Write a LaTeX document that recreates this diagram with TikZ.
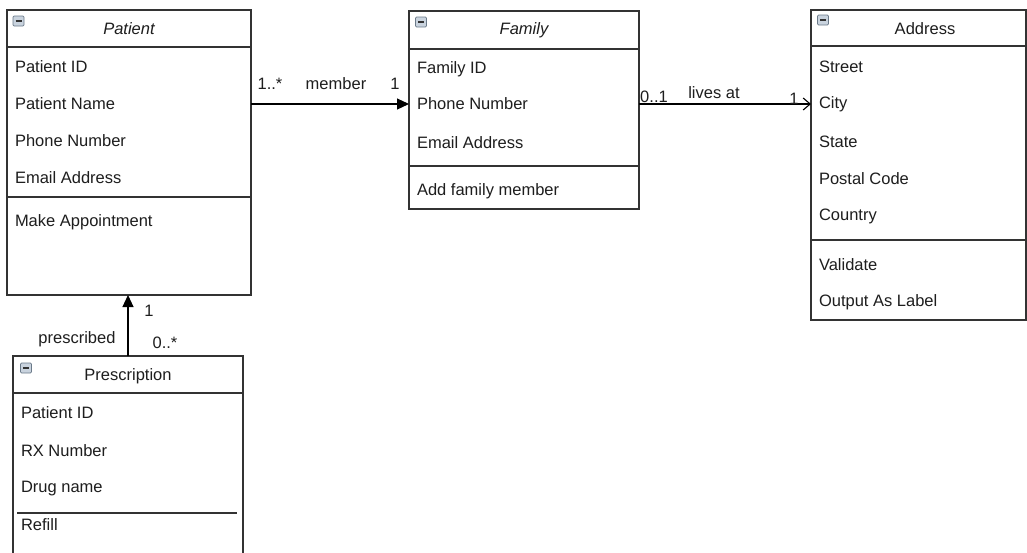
\documentclass[tikz,border=0pt]{standalone}
\usepackage{fontspec}
\setmainfont{Liberation Sans}
\usetikzlibrary{arrows.meta}
\definecolor{ln}{HTML}{333333}
\definecolor{txt}{HTML}{1E1E1E}
\definecolor{icf}{HTML}{C9D3DE}
\definecolor{icb}{HTML}{6B7A89}
\begin{document}
\begin{tikzpicture}[x=1pt,y=-1pt,
  every node/.style={font=\fontsize{16.5}{19}\selectfont, text=txt, inner sep=0pt, outer sep=0pt},
  box/.style={draw=ln, line width=1.1pt, fill=white},
  sep/.style={draw=ln, line width=1.1pt},
  attr/.style={anchor=west},
  hdr/.style={anchor=center},
  lbl/.style={anchor=center},
  icon/.style={draw=icb, line width=0.7pt, fill=icf, minimum width=11pt, minimum height=10pt, rounded corners=1.2pt,
    path picture={\draw[line width=1.6pt, ln] ([xshift=2.5pt]path picture bounding box.west) -- ([xshift=-2.5pt]path picture bounding box.east);}},
  arr/.style={draw=black, line width=1.1pt, -{Triangle[length=12pt,width=11pt]}},
  arro/.style={draw=black, line width=1.1pt, -{Straight Barb[length=7pt,width=12pt]}}
]
\clip (0,0) rectangle (1027,552);
\fill[white] (0,0) rectangle (1027,552);

% Patient
\node[box, minimum width=244pt, minimum height=285pt] (patient) at (129,152.5) {};
\node[icon] (picon) at (18.5,21) {};
\node[hdr, font=\fontsize{16.5}{19}\selectfont\itshape] (ptitle) at (129,29) {Patient};
\draw[sep] (patient.west |- 0,47) -- (patient.east |- 0,47);
\node[attr] (pid) at (15,67) {Patient ID};
\node[attr] (pname) at (15,104) {Patient Name};
\node[attr] (pphone) at (15,141) {Phone Number};
\node[attr] (pemail) at (15,178) {Email Address};
\draw[sep] (patient.west |- 0,197) -- (patient.east |- 0,197);
\node[attr] (pmake) at (15,222) {Make Appointment};

% Family
\node[box, minimum width=230pt, minimum height=198pt] (family) at (524,110) {};
\node[icon] (ficon) at (421,22) {};
\node[hdr, font=\fontsize{16.5}{19}\selectfont\itshape] (ftitle) at (524,30) {Family};
\draw[sep] (family.west |- 0,49) -- (family.east |- 0,49);
\node[attr] (fid) at (417,69) {Family ID};
\node[attr] (fphone) at (417,104) {Phone Number};
\node[attr] (femail) at (417,143) {Email Address};
\draw[sep] (family.west |- 0,166) -- (family.east |- 0,166);
\node[attr] (fadd) at (417,191) {Add family member};

% Address
\node[box, minimum width=215pt, minimum height=310pt] (address) at (918.5,165) {};
\node[icon] (aicon) at (823,20) {};
\node[hdr] (atitle) at (925,29) {Address};
\draw[sep] (address.west |- 0,46) -- (address.east |- 0,46);
\node[attr] (astreet) at (819,67) {Street};
\node[attr] (acity) at (819,104) {City};
\node[attr] (astate) at (819,142) {State};
\node[attr] (apostal) at (819,179) {Postal Code};
\node[attr] (acountry) at (819,216) {Country};
\draw[sep] (address.west |- 0,240) -- (address.east |- 0,240);
\node[attr] (avalid) at (819,265) {Validate};
\node[attr] (aout) at (819,302) {Output As Label};

% Prescription
\node[box, minimum width=230pt, minimum height=220pt] (presc) at (128,466) {};
\node[icon] (ricon) at (26,368) {};
\node[hdr] (rtitle) at (128,376) {Prescription};
\draw[sep] (presc.west |- 0,393) -- (presc.east |- 0,393);
\node[attr] (rid) at (21,413) {Patient ID};
\node[attr] (rrx) at (21,451) {RX Number};
\node[attr] (rdrug) at (21,489) {Drug name};
\draw[sep] (17,513) -- (237,513);
\node[attr] (rrefill) at (21,525) {Refill};

% Connectors
\draw[arr] (patient.east |- fphone) -- (family.west |- fphone);
\node[lbl] (m1) at (270,84) {1..*};
\node[lbl] (mname) at (336,84) {member};
\node[lbl] (m2) at (395,84) {1};

\draw[arro] (family.east |- acity) -- (address.west |- acity);
\node[lbl] (l1) at (654,97) {0..1};
\node[lbl] (lname) at (714,93) {lives at};
\node[lbl] (l2) at (794,99) {1};

\draw[arr] (presc.north) -- (presc.north |- patient.south);
\node[lbl] (p1) at (149,311) {1};
\node[lbl] (pname2) at (77,339) {prescribed};
\node[lbl] (p2) at (165,343) {0..*};
\end{tikzpicture}
\end{document}
